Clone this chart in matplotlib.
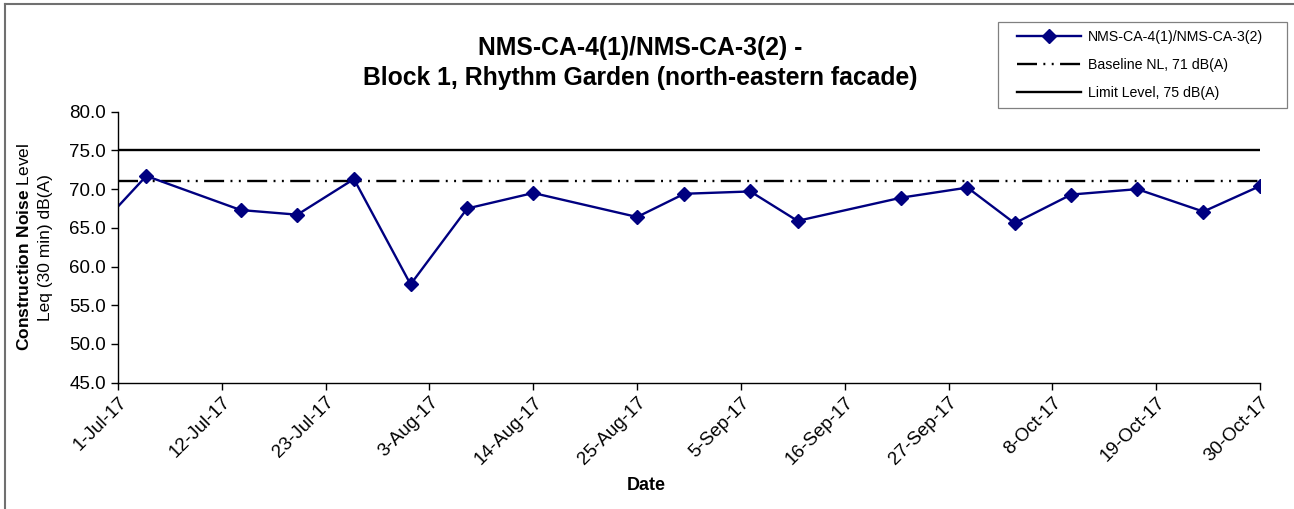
import datetime as dt
import matplotlib
matplotlib.use('Agg')
from matplotlib import pyplot as plt
from matplotlib.lines import Line2D
from matplotlib.patches import Rectangle

plt.rcParams['font.family'] = ['Liberation Sans', 'DejaVu Sans']
plt.rcParams['mathtext.fontset'] = 'custom'
plt.rcParams['mathtext.rm'] = 'Liberation Sans'
plt.rcParams['mathtext.bf'] = 'Liberation Sans:bold'
plt.rcParams['lines.scale_dashes'] = False

# measurement dates and Leq values (first point is before the plotted range)
dates = ['2017-06-27', '2017-07-04', '2017-07-14', '2017-07-20', '2017-07-26',
         '2017-08-01', '2017-08-07', '2017-08-14', '2017-08-25', '2017-08-30',
         '2017-09-06', '2017-09-11', '2017-09-22', '2017-09-29', '2017-10-04',
         '2017-10-10', '2017-10-17', '2017-10-24', '2017-10-30']
leq = [62.5, 71.7, 67.3, 66.7, 71.3,
       57.7, 67.5, 69.5, 66.4, 69.4,
       69.7, 65.9, 68.9, 70.2, 65.6,
       69.3, 70.0, 67.1, 70.4]
baseline = 71
limit = 75
series_label = 'NMS-CA-4(1)/NMS-CA-3(2)'
baseline_label = 'Baseline NL, 71 dB(A)'
limit_label = 'Limit Level, 75 dB(A)'

x = [dt.datetime.strptime(d, '%Y-%m-%d') for d in dates]
start = dt.datetime(2017, 7, 1)
end = dt.datetime(2017, 10, 30)

fig = plt.figure(figsize=(12.94, 5.09), dpi=100)
ax = fig.add_axes([118/1294, 1 - 382.7/509, (1260-118)/1294, (382.7-111.7)/509])

ax.plot([start, end], [limit, limit], color='black', lw=1.7, label=limit_label)
ax.plot([start, end], [baseline, baseline], color='black', lw=1.7,
        dashes=(14.4, 4.6, 1.4, 4.6, 1.4, 4.6), label=baseline_label)
ax.plot(x, leq, color='#000080', lw=1.7, marker='D', markersize=7.5, label=series_label)

ax.set_xlim(start, end)
ax.set_ylim(45, 80)
ax.set_yticks([45 + 5*i for i in range(8)])
ax.yaxis.set_major_formatter(plt.FormatStrFormatter('%.1f'))

ticks = [start + dt.timedelta(days=11*i) for i in range(12)]
ax.set_xticks(ticks)
ax.set_xticklabels([f"{t.day}-{t.strftime('%b-%y')}" for t in ticks],
                   rotation=45, ha='right', rotation_mode='anchor')

for s in ['top', 'right']:
    ax.spines[s].set_visible(False)
for s in ['left', 'bottom']:
    ax.spines[s].set_linewidth(1.0)
ax.tick_params(axis='both', labelsize=13.5, length=5, width=1, direction='out')
ax.tick_params(axis='x', pad=3)

ax.set_ylabel(r'$\bf{Construction\ Noise}$ Level' + '\nLeq (30 min) dB(A)',
              fontsize=12.5, labelpad=12, linespacing=1.45)

fig.text(646/1294, 1 - 485/509, 'Date', fontsize=13, fontweight='bold',
         ha='center', va='center')
fig.text(640/1294, 1 - 63/509, 'NMS-CA-4(1)/NMS-CA-3(2) -\nBlock 1, Rhythm Garden (north-eastern facade)',
         fontsize=17.8, fontweight='bold', ha='center', va='center', linespacing=1.3)

handles, labels = ax.get_legend_handles_labels()
order = [2, 1, 0]
leg = fig.legend([handles[i] for i in order], [labels[i] for i in order],
                 loc='upper left', bbox_to_anchor=(1017/1294, 1 - 30/509),
                 fontsize=10.2, frameon=False, borderpad=0, borderaxespad=0,
                 handlelength=4.5, labelspacing=1.0, handletextpad=0.5)

# legend box
fig.add_artist(Rectangle((998/1294, 1 - 108/509), (1287-998)/1294, 86/509,
                         fill=False, edgecolor='#808080', lw=0.9,
                         transform=fig.transFigure))

# outer chart border
fig.add_artist(Line2D([5/1294, 5/1294], [0, 1 - 4/509], color='#707070', lw=1.5,
                      transform=fig.transFigure))
fig.add_artist(Line2D([5/1294, 1], [1 - 4/509, 1 - 4/509], color='#707070', lw=1.5,
                      transform=fig.transFigure))

fig.savefig('out.png', dpi=100)
